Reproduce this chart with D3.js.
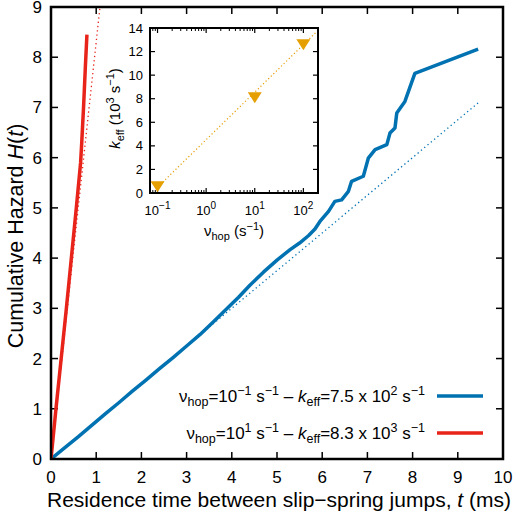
<!DOCTYPE html>
<html><head><meta charset="utf-8">
<script src="https://cdn.jsdelivr.net/npm/d3@7"></script>
<style>
html,body{margin:0;padding:0;background:#fff;}
text{font-family:"Liberation Sans",Arial,Helvetica,sans-serif;fill:#000;}
</style></head>
<body><svg id="c" width="515" height="513"></svg>
<script>
// ---- data ----
const blueT = [0,0.3,0.6,0.9,1.2,1.5,1.8,2.1,2.4,2.7,3.0,3.3,3.6,3.9,4.15,4.4,4.7,5.0,5.29,5.5,5.7,5.84,5.95,6.14,6.28,6.43,6.58,6.65,6.91,7.02,7.17,7.43,7.50,7.61,7.65,7.83,8.05,9.45];
const blueH = [0,0.22,0.44,0.67,0.90,1.12,1.35,1.57,1.80,2.02,2.25,2.48,2.74,3.00,3.22,3.46,3.72,3.96,4.17,4.30,4.45,4.58,4.73,4.93,5.13,5.16,5.33,5.53,5.63,5.99,6.16,6.26,6.49,6.59,6.89,7.12,7.68,8.16];
const redT = [0,0.11,0.225,0.34,0.45,0.56,0.655,0.68,0.72,0.76,0.795];
const redH = [0,1.0,2.0,3.0,4.0,5.0,5.9,6.3,7.0,7.8,8.45];
const blueFitT = [0,9.45];
const blueFitH = [0,7.09];
const redFitT = [0,1.12];
const redFitH = [0,9.3];
const xTicks = [0,1,2,3,4,5,6,7,8,9,10];
const yTicks = [0,1,2,3,4,5,6,7,8,9];
// inset
const insetNu = [0.1,10,100];
const insetK = [0.75,8.3,12.8];
const insetFitNu = [0.1,200];
const insetFitK = [0.49,13.8];
const insetYTicks = [0,2,4,6,8,10,12,14];
const insetXTicks = [0.1,1,10,100];
const insetXExp = ["−1","0","1","2"];

const blue = "#0072b2", red = "#e8231a", orange = "#e69f00";
const svg = d3.select("#c");

// ---- main plot ----
const L=51,R=503,T=7,B=459;
const x = d3.scaleLinear().domain([0,10]).range([L,R]);
const y = d3.scaleLinear().domain([0,9]).range([B,T]);

svg.append("clipPath").attr("id","mclip").append("rect").attr("x",L).attr("y",T).attr("width",R-L).attr("height",B-T);

const tl = 7;
const g = svg.append("g");
xTicks.forEach(v=>{
  g.append("line").attr("x1",x(v)).attr("x2",x(v)).attr("y1",B).attr("y2",B-tl).attr("stroke","#000").attr("stroke-width",1.5);
  g.append("line").attr("x1",x(v)).attr("x2",x(v)).attr("y1",T).attr("y2",T+tl).attr("stroke","#000").attr("stroke-width",1.5);
  g.append("text").attr("x",x(v)).attr("y",B+24).attr("text-anchor","middle").attr("font-size",17).text(v);
});
yTicks.forEach(v=>{
  g.append("line").attr("x1",L).attr("x2",L+tl).attr("y1",y(v)).attr("y2",y(v)).attr("stroke","#000").attr("stroke-width",1.5);
  g.append("line").attr("x1",R).attr("x2",R-tl).attr("y1",y(v)).attr("y2",y(v)).attr("stroke","#000").attr("stroke-width",1.5);
  g.append("text").attr("x",L-9).attr("y",y(v)+6).attr("text-anchor","end").attr("font-size",17).text(v);
});

const line = d3.line().x(d=>x(d[0])).y(d=>y(d[1]));
const pl = svg.append("g").attr("clip-path","url(#mclip)");
pl.append("path").attr("d",line(blueFitT.map((t,i)=>[t,blueFitH[i]]))).attr("fill","none").attr("stroke",blue).attr("stroke-width",1.3).attr("stroke-dasharray","1.3,3");
pl.append("path").attr("d",line(redFitT.map((t,i)=>[t,redFitH[i]]))).attr("fill","none").attr("stroke",red).attr("stroke-width",1.3).attr("stroke-dasharray","1.3,3");
pl.append("path").attr("d",line(blueT.map((t,i)=>[t,blueH[i]]))).attr("fill","none").attr("stroke",blue).attr("stroke-width",3.5).attr("stroke-linejoin","round");
pl.append("path").attr("d",line(redT.map((t,i)=>[t,redH[i]]))).attr("fill","none").attr("stroke",red).attr("stroke-width",3.5).attr("stroke-linejoin","round");

svg.append("rect").attr("x",L).attr("y",T).attr("width",R-L).attr("height",B-T).attr("fill","none").attr("stroke","#000").attr("stroke-width",2.5);

// axis titles
const xt = svg.append("text").attr("x",(L+R)/2+2).attr("y",507).attr("text-anchor","middle").attr("font-size",21);
xt.append("tspan").text("Residence time between slip−spring jumps, ");
xt.append("tspan").attr("font-style","italic").text("t");
xt.append("tspan").text(" (ms)");
const yt = svg.append("text").attr("transform","translate(23,236) rotate(-90)").attr("text-anchor","middle").attr("font-size",21.5);
yt.append("tspan").text("Cumulative Hazard ");
yt.append("tspan").attr("font-style","italic").text("H");
yt.append("tspan").text("(");
yt.append("tspan").attr("font-style","italic").text("t");
yt.append("tspan").text(")");

// legend
function legendText(yb, nuExp, kMant, kExp){
  const t = svg.append("text").attr("x",425).attr("y",yb).attr("text-anchor","end").attr("font-size",17);
  t.append("tspan").text("ν");
  t.append("tspan").attr("font-size",12.5).attr("dy",4).text("hop");
  t.append("tspan").attr("dy",-4).text("=10");
  t.append("tspan").attr("font-size",12.5).attr("dy",-7).text(nuExp);
  t.append("tspan").attr("dy",7).text(" s");
  t.append("tspan").attr("font-size",12.5).attr("dy",-7).text("−1");
  t.append("tspan").attr("dy",7).text(" – ");
  t.append("tspan").attr("font-style","italic").text("k");
  t.append("tspan").attr("font-size",12.5).attr("dy",4).text("eff");
  t.append("tspan").attr("dy",-4).text("="+kMant+" x 10");
  t.append("tspan").attr("font-size",12.5).attr("dy",-7).text(kExp);
  t.append("tspan").attr("dy",7).text(" s");
  t.append("tspan").attr("font-size",12.5).attr("dy",-7).text("−1");
}
legendText(402,"−1","7.5","2");
legendText(439,"1","8.3","3");
svg.append("line").attr("x1",437).attr("x2",483).attr("y1",396).attr("y2",396).attr("stroke",blue).attr("stroke-width",3.5);
svg.append("line").attr("x1",437).attr("x2",483).attr("y1",433).attr("y2",433).attr("stroke",red).attr("stroke-width",3.5);

// ---- inset ----
const iL=150,iR=318,iT=28,iB=193;
svg.append("rect").attr("x",iL).attr("y",iT).attr("width",iR-iL).attr("height",iB-iT).attr("fill","#fff");
const ix = d3.scaleLog().domain([0.07,200]).range([iL,iR]);
const iy = d3.scaleLinear().domain([0,14]).range([iB,iT]);
const ig = svg.append("g");
insetYTicks.forEach(v=>{
  ig.append("line").attr("x1",iL).attr("x2",iL+5).attr("y1",iy(v)).attr("y2",iy(v)).attr("stroke","#000").attr("stroke-width",1.2);
  ig.append("line").attr("x1",iR).attr("x2",iR-5).attr("y1",iy(v)).attr("y2",iy(v)).attr("stroke","#000").attr("stroke-width",1.2);
  ig.append("text").attr("x",iL-7).attr("y",iy(v)+4.5).attr("text-anchor","end").attr("font-size",13).text(v);
});
const minors = [];
[0.01,0.1,1,10,100].forEach(d=>{for(let m=2;m<=9;m++){const v=d*m; if(v>0.07&&v<200) minors.push(v);}});
minors.forEach(v=>{
  ig.append("line").attr("x1",ix(v)).attr("x2",ix(v)).attr("y1",iB).attr("y2",iB-3).attr("stroke","#000").attr("stroke-width",1);
  ig.append("line").attr("x1",ix(v)).attr("x2",ix(v)).attr("y1",iT).attr("y2",iT+3).attr("stroke","#000").attr("stroke-width",1);
});
insetXTicks.forEach((v,i)=>{
  ig.append("line").attr("x1",ix(v)).attr("x2",ix(v)).attr("y1",iB).attr("y2",iB-5).attr("stroke","#000").attr("stroke-width",1.2);
  ig.append("line").attr("x1",ix(v)).attr("x2",ix(v)).attr("y1",iT).attr("y2",iT+5).attr("stroke","#000").attr("stroke-width",1.2);
  const t = ig.append("text").attr("x",ix(v)).attr("y",iB+22).attr("text-anchor","middle").attr("font-size",13);
  t.append("tspan").text("10");
  t.append("tspan").attr("font-size",10).attr("dy",-6).text(insetXExp[i]);
});
const iline = d3.line().x(d=>ix(d[0])).y(d=>iy(d[1]));
svg.append("clipPath").attr("id","iclip").append("rect").attr("x",iL).attr("y",iT).attr("width",iR-iL).attr("height",iB-iT);
svg.append("path").attr("clip-path","url(#iclip)").attr("d",iline(insetFitNu.map((v,i)=>[v,insetFitK[i]]))).attr("fill","none").attr("stroke",orange).attr("stroke-width",1.2).attr("stroke-dasharray","1.2,2.4");
insetNu.forEach((v,i)=>{
  const cx = ix(v), cy = iy(insetK[i])+2.5;
  svg.append("path").attr("d",`M${cx-7},${cy-5.5}L${cx+7},${cy-5.5}L${cx},${cy+5.5}Z`).attr("fill",orange);
});
svg.append("rect").attr("x",iL).attr("y",iT).attr("width",iR-iL).attr("height",iB-iT).attr("fill","none").attr("stroke","#000").attr("stroke-width",2);

const ixt = svg.append("text").attr("x",(iL+iR)/2).attr("y",iB+43).attr("text-anchor","middle").attr("font-size",15);
ixt.append("tspan").text("ν");
ixt.append("tspan").attr("font-size",11).attr("dy",4).text("hop");
ixt.append("tspan").attr("dy",-4).text(" (s");
ixt.append("tspan").attr("font-size",11).attr("dy",-6).text("−1");
ixt.append("tspan").attr("dy",6).text(")");
const iyt = svg.append("text").attr("transform","translate(120,"+((iT+iB)/2-2)+") rotate(-90)").attr("text-anchor","middle").attr("font-size",15);
iyt.append("tspan").attr("font-style","italic").text("k");
iyt.append("tspan").attr("font-size",11).attr("dy",4).text("eff");
iyt.append("tspan").attr("dy",-4).text(" (10");
iyt.append("tspan").attr("font-size",11).attr("dy",-6).text("3");
iyt.append("tspan").attr("dy",6).text(" s");
iyt.append("tspan").attr("font-size",11).attr("dy",-6).text("−1");
iyt.append("tspan").attr("dy",6).text(")");
</script></body></html>
